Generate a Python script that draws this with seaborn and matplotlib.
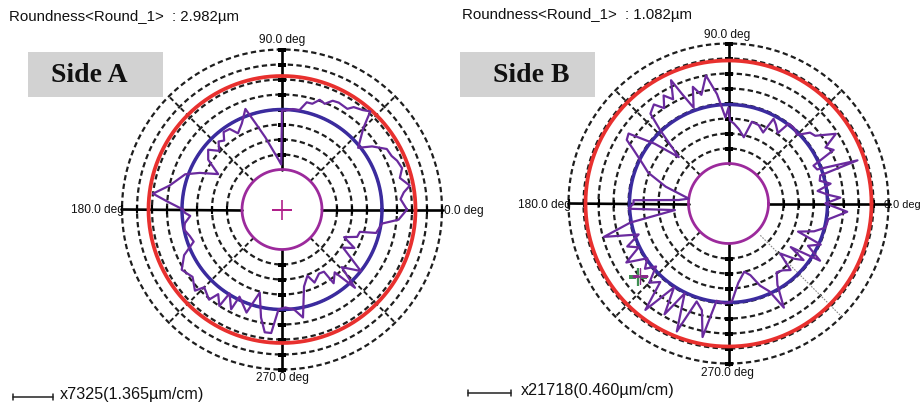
import numpy as np
import matplotlib
matplotlib.use("Agg")
import matplotlib.pyplot as plt
from matplotlib.patches import Rectangle
from matplotlib.lines import Line2D
import seaborn as sns
import pandas as pd

# ---------------- data (radii in chart units, angles in degrees) ----------------
ring_radii = [55, 70, 85, 100, 115, 130, 145, 160]
axis_ticks = [55, 70, 85, 100, 115, 130, 145, 160]

side_a_inner_circle = 40
side_a_mean_circle = 100
side_a_outer_circle = 133.5
side_a_title = "Roundness<Round_1>  : 2.982\u00b5m"
side_a_scale = "x7325(1.365\u00b5m/cm)"

side_a_theta = [0, 5, 8, 10.6, 15, 19, 23, 26, 30, 35, 39, 45, 48, 51, 55, 57, 62, 65, 68, 71,
                74, 77, 80, 84, 88, 90, 91, 94, 103, 107, 110, 115, 120, 123, 127, 130, 133, 137,
                141, 146, 151, 156, 160, 168, 173, 176, 180, 182, 184, 188, 191.5, 196, 200, 205,
                211, 217, 223, 225, 231, 233, 237, 238, 243, 244, 251, 255, 259, 262, 265, 268,
                272, 277, 281, 286, 291, 294, 300, 304, 305, 310, 313, 316, 322, 328, 332, 336,
                340, 344, 346, 352, 355, 360]
side_a_radius = [125, 119, 123, 130, 122, 127, 125, 122, 121, 110, 98, 115, 132, 128, 125, 120, 121,
                 120, 114, 116, 110, 110, 101, 101, 99, 99, 45, 50, 74, 90, 107, 95, 88, 96, 97, 90,
                 93, 86, 95, 89, 73, 90, 103, 115, 130, 115, 99, 97, 92, 98, 100, 96, 94, 108, 117,
                 112, 119, 110, 116, 106, 115, 99, 112, 97, 109, 86, 110, 124, 124, 100, 98, 101,
                 110, 80, 71, 80, 74, 75, 90, 82, 107, 83, 100, 72, 82, 68, 80, 81, 97, 101, 117, 125]

side_b_inner_circle = 40
side_b_mean_circle = 99
side_b_outer_circle = 143
side_b_title = "Roundness<Round_1>  : 1.082\u00b5m"
side_b_scale = "x21718(0.460\u00b5m/cm)"
side_b_marker_theta = 219
side_b_marker_radius = 116

side_b_theta = [0, 3, 5, 8, 11, 14, 17, 18.5, 21, 24, 27, 30, 33, 38, 41, 45, 49, 53, 55, 59, 62,
                64, 69, 74, 77, 82, 86, 89, 90, 92, 96, 100, 104, 107, 110, 113, 115, 118, 121,
                124, 127, 131, 133, 137, 141, 145, 148, 150, 155, 159, 165, 173, 176, 178, 180,
                183, 187, 191, 195, 199, 203, 206, 210, 214, 218, 221, 225, 229, 232, 237, 240,
                244, 248, 252, 256, 259, 263, 268, 272, 277, 283, 287, 291, 295, 298, 301, 305,
                309, 313, 316, 320, 323, 325, 328, 332, 336, 338, 342, 346, 351, 356, 360]
side_b_radius = [97, 112, 100, 90, 104, 94, 96, 136, 95, 93, 118, 112, 128, 110, 108, 97, 100, 100,
                 86, 92, 96, 79, 84, 85, 68, 75, 80, 83, 96, 86, 110, 130, 112, 122, 102, 119, 136,
                 118, 126, 115, 124, 119, 100, 68, 95, 122, 120, 111, 95, 86, 65, 40, 50, 95, 95,
                 100, 54, 100, 129, 95, 110, 100, 118, 98, 106, 96, 112, 104, 135, 100, 128, 100,
                 138, 103, 110, 136, 98, 100, 98, 80, 70, 75, 88, 97, 118, 95, 84, 86, 91, 72, 86,
                 94, 76, 108, 90, 101, 75, 90, 100, 101, 119, 97]

# ---------------- styling ----------------
sns.set_theme(style="white")
plt.rcParams['font.family'] = ['Liberation Sans', 'DejaVu Sans']

W, H = 923, 405
fig = plt.figure(figsize=(W / 100, H / 100), dpi=100)
fig.patch.set_facecolor('white')
RMAX = 165

C_RED = '#e8302e'
C_BLUE = '#3b2b9e'
C_MAG = '#9c2a9c'
C_PROF = '#6a2a9e'
DASH = (0, (2.4, 1.5))


def fx(x):
    return x / W


def fy(y):
    return 1 - y / H


def make_ax(cx, cy):
    ax = fig.add_axes([(cx - RMAX) / W, (H - cy - RMAX) / H, 2 * RMAX / W, 2 * RMAX / H],
                      projection='polar')
    ax.set_rlim(0, RMAX)
    ax.set_xticks([])
    ax.set_yticks([])
    ax.grid(False)
    ax.spines['polar'].set_visible(False)
    ax.patch.set_alpha(0)
    return ax


def draw_panel(ax, inner, mean, outer, theta, radius, diag_special=None, center_plus=False):
    th = np.linspace(0, 2 * np.pi, 721)
    for R in ring_radii:
        ax.plot(th, np.full_like(th, R), color='#1e1e1e', lw=1.6, ls=DASH, zorder=1)
    for ang in [45, 135, 225, 315]:
        a = np.deg2rad(ang)
        if diag_special is not None and ang == diag_special:
            ax.plot([a, a], [inner + 5, ring_radii[-1]], color='#888888', lw=0.8,
                    ls=(0, (1.5, 1.2)), zorder=1)
        else:
            ax.plot([a, a], [inner, ring_radii[-1]], color='#1e1e1e', lw=1.4,
                    ls=DASH, zorder=1)
    for ang in [0, 90, 180, 270]:
        a = np.deg2rad(ang)
        ax.plot([a, a], [inner, 161], color='black', lw=1.9, zorder=2)
        mk = '|' if ang in (0, 180) else '_'
        ax.plot([a] * len(axis_ticks), axis_ticks, ls='none', marker=mk, ms=6, mew=1.5,
                color='black', zorder=2)
    ax.plot(th, np.full_like(th, outer), color=C_RED, lw=2.7, zorder=3)
    ax.plot(th, np.full_like(th, mean), color=C_BLUE, lw=2.5, zorder=3)
    ax.plot(th, np.full_like(th, inner), color=C_MAG, lw=2.0, zorder=3)
    df = pd.DataFrame({'theta': np.deg2rad(theta), 'r': radius})
    sns.lineplot(data=df, x='theta', y='r', ax=ax, sort=False, estimator=None,
                 color=C_PROF, lw=1.6, zorder=4)
    ax.set_xlabel('')
    ax.set_ylabel('')
    ax.set_rlim(0, RMAX)
    if center_plus:
        ax.plot([0], [0], marker='+', ms=15, mew=1.2, color='#b0208a', zorder=5)


# Side A
axA = make_ax(282, 209.5)
draw_panel(axA, side_a_inner_circle, side_a_mean_circle, side_a_outer_circle,
           side_a_theta, side_a_radius, center_plus=True)

# Side B
axB = make_ax(728.5, 203.5)
draw_panel(axB, side_b_inner_circle, side_b_mean_circle, side_b_outer_circle,
           side_b_theta, side_b_radius, diag_special=315)
mt = np.deg2rad(side_b_marker_theta)
axB.plot([mt], [side_b_marker_radius], marker='+', ms=13, mew=1.6, color='#3f8f52', zorder=5)
axB.plot([mt], [side_b_marker_radius - 1.5], marker='+', ms=11, mew=1.0, color='#8a2a8a', zorder=6)

# ---------------- texts ----------------
lab = dict(fontsize=8.6, color='#111111', va='center')
fig.text(fx(9), fy(17), side_a_title, fontsize=10.8, va='center', ha='left', color='#111111')
fig.text(fx(462), fy(15), side_b_title, fontsize=10.8, va='center', ha='left', color='#111111')

fig.text(fx(282), fy(40), "90.0 deg", ha='center', **lab)
fig.text(fx(282), fy(378), "270.0 deg", ha='center', **lab)
fig.text(fx(124), fy(210), "180.0 deg", ha='right', **lab)
fig.text(fx(444), fy(211), "0.0 deg", ha='left', **lab)

fig.text(fx(727), fy(35), "90.0 deg", ha='center', **lab)
fig.text(fx(727), fy(373), "270.0 deg", ha='center', **lab)
fig.text(fx(571), fy(205), "180.0 deg", ha='right', **lab)
fig.text(fx(921), fy(205), "0.0 deg", ha='right', fontsize=7.9, color='#111111', va='center')

# Side boxes
for (x0, xc, label) in [(28, 89, "Side A"), (460, 531, "Side B")]:
    fig.add_artist(Rectangle((fx(x0), fy(97)), 135 / W, 45 / H, transform=fig.transFigure,
                             facecolor='#d2d2d2', edgecolor='none', zorder=0))
    fig.text(fx(xc), fy(75), label, fontsize=20, fontweight='bold',
             family=['Liberation Serif', 'DejaVu Serif'], ha='center', va='center',
             color='#111111')

# scale bars
for (x0, x1, y, txt, tx) in [(13, 53, 397, side_a_scale, 60), (468, 511, 393, side_b_scale, 521)]:
    fig.add_artist(Line2D([fx(x0), fx(x1)], [fy(y), fy(y)], transform=fig.transFigure,
                          color='#222222', lw=1.1))
    for xe in (x0, x1):
        fig.add_artist(Line2D([fx(xe), fx(xe)], [fy(y - 3), fy(y + 3)],
                              transform=fig.transFigure, color='#222222', lw=1.1))
    fig.text(fx(tx), fy(y - 2), txt, fontsize=11.6, ha='left', va='center', color='#111111')

fig.savefig('out.png', dpi=100, facecolor='white')
